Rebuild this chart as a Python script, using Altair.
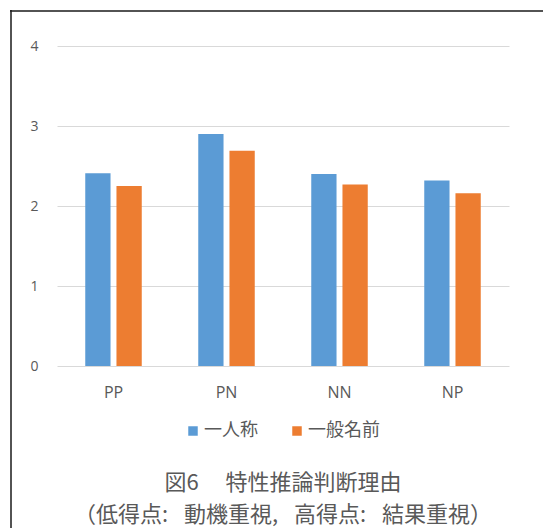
import altair as alt
import pandas as pd

# Mean scores per condition for the two naming styles
conditions = ["PP", "PN", "NN", "NP"]
series_names = ["一人称", "一般名前"]
first_person = [2.41, 2.90, 2.40, 2.32]
general_name = [2.25, 2.69, 2.27, 2.16]

title_lines = [
    "図6\u3000 特性推論判断理由",
    "（低得点:\u2002 動機重視,\u2002 高得点:\u2002 結果重視）",
]
y_ticks = [0, 1, 2, 3, 4]

rows = []
for cond, a, b in zip(conditions, first_person, general_name):
    rows.append({"条件": cond, "系列": series_names[0], "値": a})
    rows.append({"条件": cond, "系列": series_names[1], "値": b})
df = pd.DataFrame(rows)

CJK = "Noto Sans CJK JP"
LATIN = "Open Sans"
GREY = "#595959"

bars = alt.Chart(df).mark_bar().encode(
    x=alt.X(
        "条件:N",
        sort=conditions,
        scale=alt.Scale(paddingInner=0.5, paddingOuter=0.25),
        axis=alt.Axis(
            title=None, labelAngle=0, ticks=False, domain=False, grid=False,
            labelFont=LATIN, labelFontSize=16, labelColor=GREY, labelPadding=18,
        ),
    ),
    xOffset=alt.XOffset(
        "系列:N", sort=series_names, scale=alt.Scale(paddingInner=0.19, paddingOuter=0)
    ),
    y=alt.Y(
        "値:Q",
        scale=alt.Scale(domain=[0, 4], nice=False),
        axis=alt.Axis(
            title=None, values=y_ticks, format="d", ticks=False, domain=False,
            gridColor="#D9D9D9", gridWidth=1,
            labelFont=LATIN, labelFontSize=14, labelColor=GREY, labelPadding=19,
        ),
    ),
    color=alt.Color(
        "系列:N",
        sort=series_names,
        scale=alt.Scale(domain=series_names, range=["#5B9BD5", "#ED7D31"]),
        legend=alt.Legend(
            title=None, orient="none", direction="horizontal",
            legendX=127, legendY=376,
            symbolType="square", symbolSize=90, symbolStrokeWidth=0,
            labelFont=CJK, labelFontSize=18, labelColor=GREY,
            labelOffset=2, columnPadding=30,
        ),
    ),
)

# left and top edges of the figure frame
frame_src = alt.Data(values=[{}])
frame_left = alt.Chart(frame_src).mark_rule(color="#1a1a1a", strokeWidth=1.5).encode(
    x=alt.value(-46), y=alt.value(-36), y2=alt.value(482)
)
frame_top = alt.Chart(frame_src).mark_rule(color="#1a1a1a", strokeWidth=1.5).encode(
    y=alt.value(-35), x=alt.value(-47), x2=alt.value(486)
)

chart = alt.layer(frame_left, frame_top, bars).properties(
    width=452,
    height=320,
    padding={"left": 57, "top": 46, "right": 34, "bottom": 162},
    autosize=alt.AutoSizeParams(type="none"),
    title=alt.TitleParams(
        text=title_lines, orient="bottom", anchor="middle",
        font=CJK, fontSize=22, fontWeight="normal", color=GREY,
        lineHeight=32, offset=0, dy=-56,
    ),
).configure(
    background="white",
    view=alt.ViewConfig(stroke="transparent"),
)

chart.save("out.html", embed_options={"renderer": "svg", "actions": False})
